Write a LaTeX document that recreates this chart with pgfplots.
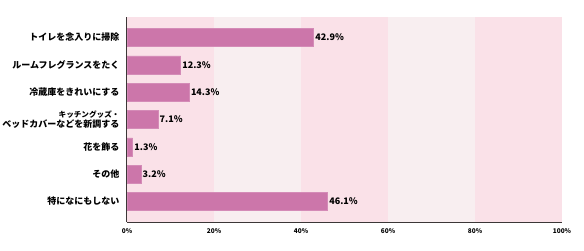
\documentclass[border=0pt]{standalone}
\usepackage{fontspec}
\setmainfont{Noto Sans CJK JP}
\usepackage{pgfplots}
\pgfplotsset{compat=1.18}
\definecolor{barc}{RGB}{204,118,170}
\definecolor{bandA}{RGB}{250,225,232}
\definecolor{bandB}{RGB}{248,238,240}
\definecolor{axc}{RGB}{60,55,55}
\begin{document}
\begin{tikzpicture}
\useasboundingbox (0,0) rectangle (584pt,251pt);
\begin{axis}[
  at={(127pt,29pt)}, anchor=south west,
  scale only axis, width=435pt, height=205pt,
  xmin=0, xmax=100, ymin=-0.75, ymax=6.75, y dir=reverse,
  axis x line=bottom, axis y line=left,
  axis line style={-, draw=axc, line width=1pt},
  axis on top,
  /pgf/number format/assume math mode=true,
  xtick={0,20,40,60,80,100},
  xticklabel={\pgfmathprintnumber{\tick}\%},
  xticklabel style={font=\bfseries\fontsize{6.5}{7}\selectfont, yshift=-3pt},
  major tick length=0pt, tick style={draw=none},
  ytick={0,1,2,3,4,5,6},
  yticklabels={トイレを念入りに掃除, ルームフレグランスをたく, 冷蔵庫をきれいにする, {{\fontsize{7.6}{11}\selectfont キッチングッズ・\\ベッドカバーなどを新調する}}, 花を飾る, その他, 特になにもしない},
  yticklabel style={font=\bfseries\fontsize{9}{10}\selectfont, align=right, xshift=-4pt},
  xbar, bar width=18pt, bar shift=0pt,
  nodes near coords={\pgfmathprintnumber[fixed,fixed zerofill,precision=1]{\pgfplotspointmeta}\%},
  nodes near coords style={font=\bfseries\fontsize{9}{10}\selectfont, anchor=west, inner sep=1.5pt, text=black},
]
\fill[bandA] (axis cs:0,-0.75) rectangle (axis cs:20,6.75);
\fill[bandB] (axis cs:20,-0.75) rectangle (axis cs:40,6.75);
\fill[bandA] (axis cs:40,-0.75) rectangle (axis cs:60,6.75);
\fill[bandB] (axis cs:60,-0.75) rectangle (axis cs:80,6.75);
\fill[bandA] (axis cs:80,-0.75) rectangle (axis cs:100,6.75);
\addplot[fill=barc, draw=barc!85!white, line width=0.6pt] coordinates {
  (42.9,0) (12.3,1) (14.3,2) (7.1,3) (1.3,4) (3.2,5) (46.1,6)
};
\end{axis}
\end{tikzpicture}
\end{document}
